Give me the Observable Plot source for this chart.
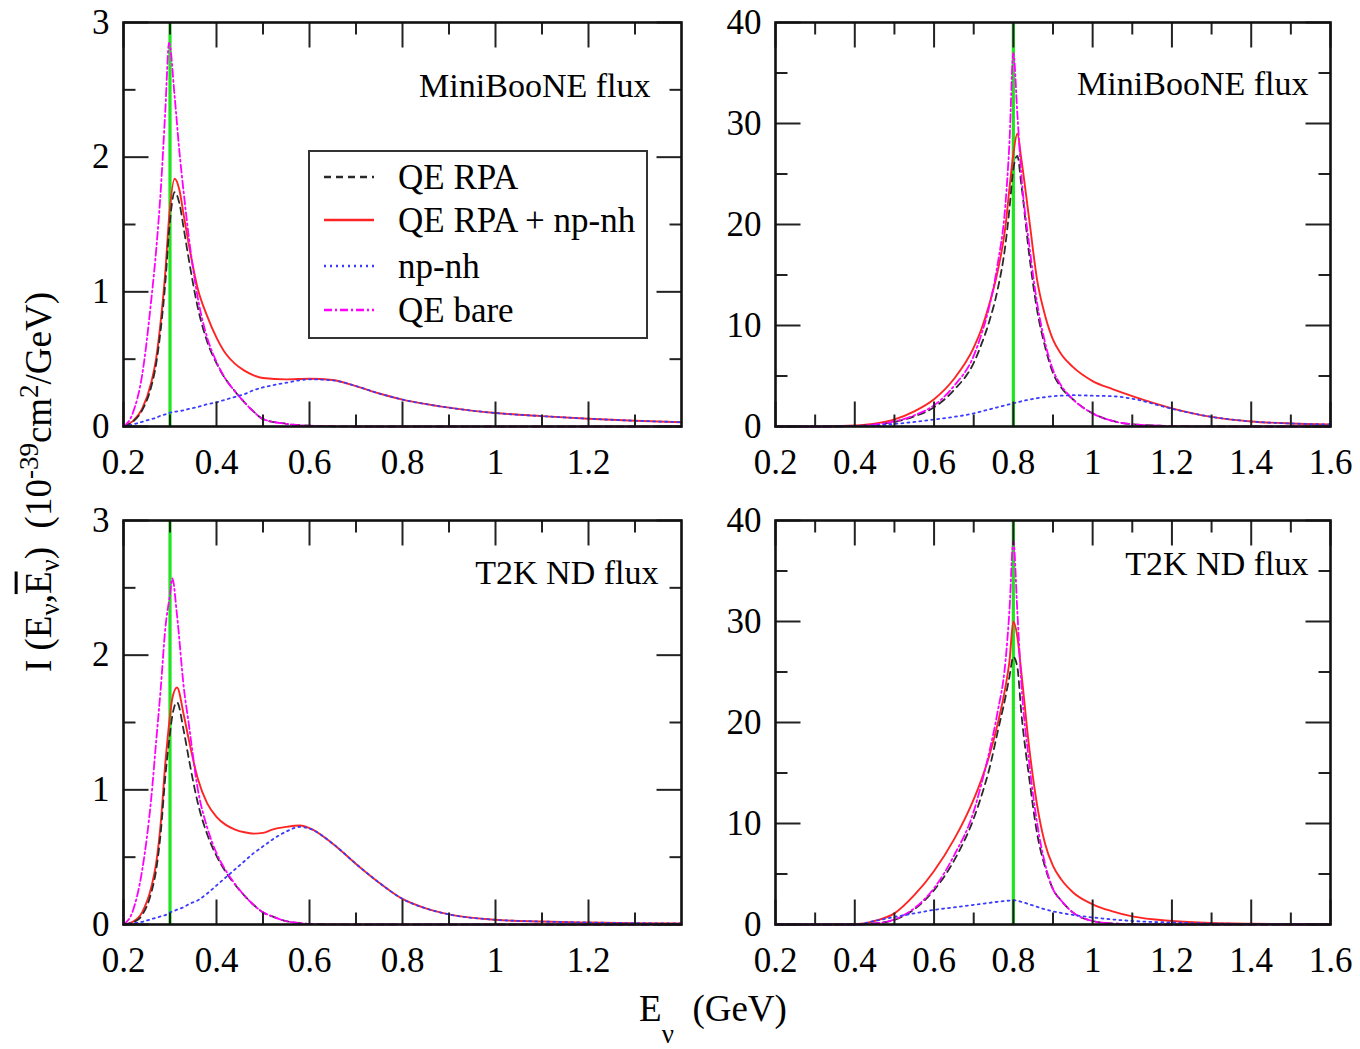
<!DOCTYPE html>
<html><head><meta charset="utf-8">
<script src="https://cdn.jsdelivr.net/npm/d3@7"></script>
<script src="https://cdn.jsdelivr.net/npm/@observablehq/plot@0.6"></script>
<style>
body{margin:0;background:#fff;}
#wrap{position:relative;width:1360px;height:1049px;font-family:"Liberation Serif","Times New Roman",serif;color:#000;overflow:hidden;}
.panel{position:absolute;}
.legend{position:absolute;left:308px;top:150px;width:336px;height:185px;border:2px solid #333;background:#fff;font-size:35px;}
.legend .row{position:absolute;left:0;height:40px;display:flex;align-items:center;}
.legend svg{margin-left:14px;}
.legend span{position:absolute;left:88px;white-space:nowrap;line-height:1;}
.ylab{position:absolute;left:40px;top:482px;transform:translate(-50%,-50%) rotate(-90deg);font-size:37px;white-space:nowrap;}
.ylab sub,.ylab sup{font-size:27px;}
.xlab{position:absolute;left:713px;top:1012px;transform:translate(-50%,-50%);font-size:37px;white-space:nowrap;}
.xlab sub{font-size:27px;position:relative;top:14px;}
</style>
</head><body>
<div id="wrap"></div>
<script>
// ---------- data ----------
const panelTitles = ["MiniBooNE flux", "MiniBooNE flux", "T2K ND flux", "T2K ND flux"];
const eBarValues = [0.3, 0.8, 0.3, 0.8];
const seriesNames = ["QE RPA", "QE RPA + np-nh", "np-nh", "QE bare"];

// left-column x ticks / y ticks
const xMajorLow = [0.2, 0.4, 0.6, 0.8, 1, 1.2];
const xMinorLow = [0.3, 0.5, 0.7, 0.9, 1.1, 1.3];
const yMajorLow = [0, 1, 2, 3];
const yMinorLow = [0.5, 1.5, 2.5];
// right-column
const xMajorHigh = [0.2, 0.4, 0.6, 0.8, 1, 1.2, 1.4, 1.6];
const xMinorHigh = [0.3, 0.5, 0.7, 0.9, 1.1, 1.3, 1.5];
const yMajorHigh = [0, 10, 20, 30, 40];
const yMinorHigh = [5, 15, 25, 35];

// Panel 1: MiniBooNE flux, Ebar = 0.3 GeV
const mbLowE    = [0.20,0.22,0.24,0.26,0.27,0.28,0.29,0.298,0.31,0.32,0.33,0.34,0.36,0.38,0.40,0.42,0.44,0.46,0.48,0.50,0.55,0.60,0.65,0.70,0.75,0.80,0.90,1.00,1.10,1.20,1.30,1.40];
const mbLowRPA  = [0,0.035,0.12,0.30,0.46,0.72,1.07,1.45,1.74,1.66,1.46,1.25,0.88,0.63,0.47,0.35,0.26,0.18,0.11,0.055,0.02,0.006,0.002,0,0,0,0,0,0,0,0,0];
const mbLowSum  = [0,0.04,0.13,0.33,0.50,0.78,1.15,1.55,1.84,1.76,1.56,1.36,1.02,0.82,0.66,0.54,0.465,0.415,0.38,0.36,0.35,0.355,0.345,0.30,0.245,0.20,0.14,0.10,0.077,0.058,0.043,0.032];
const mbLowNp   = [0,0.015,0.035,0.055,0.065,0.08,0.09,0.10,0.11,0.115,0.12,0.13,0.145,0.165,0.18,0.20,0.22,0.24,0.27,0.29,0.325,0.35,0.343,0.30,0.245,0.20,0.14,0.10,0.077,0.058,0.043,0.032];
const mbLowBare = [0,0.10,0.38,0.95,1.30,1.75,2.35,2.85,2.45,2.05,1.72,1.42,0.95,0.66,0.48,0.35,0.26,0.18,0.11,0.055,0.02,0.006,0.002,0,0,0,0,0,0,0,0,0];

// Panel 2: MiniBooNE flux, Ebar = 0.8 GeV
const mbHighE    = [0.20,0.30,0.40,0.45,0.50,0.55,0.60,0.65,0.70,0.72,0.74,0.76,0.78,0.79,0.80,0.81,0.82,0.84,0.86,0.88,0.90,0.92,0.95,1.00,1.05,1.10,1.20,1.30,1.40,1.50,1.60];
const mbHighRPA  = [0,0,0.05,0.18,0.45,1.0,1.9,3.6,6.3,8.2,10.5,13.5,18,21.5,25.5,26.8,24,17,11.5,7.9,5.3,3.9,2.7,1.3,0.55,0.22,0.05,0.01,0,0,0];
const mbHighSum  = [0,0,0.1,0.28,0.7,1.5,2.7,4.7,7.8,9.7,12.2,15.3,19.8,23.5,27,29,26.5,20.5,14.5,11.0,8.6,7.2,5.9,4.5,3.7,3.0,1.8,0.95,0.5,0.3,0.2];
const mbHighNp   = [0,0,0.05,0.1,0.25,0.45,0.7,0.95,1.3,1.5,1.7,1.9,2.1,2.2,2.3,2.4,2.5,2.65,2.8,2.9,3.0,3.05,3.1,3.05,3.0,2.75,1.75,0.95,0.5,0.3,0.2];
const mbHighBare = [0,0,0.05,0.2,0.5,1.1,2.1,4.0,7.0,9.2,12,16,22,28,37,31,25,18,12.2,8.3,5.6,4.1,2.7,1.3,0.55,0.22,0.05,0.01,0,0,0];

// Panel 3: T2K ND flux, Ebar = 0.3 GeV
const t2LowE    = [0.20,0.22,0.24,0.26,0.27,0.28,0.29,0.30,0.305,0.315,0.33,0.34,0.36,0.38,0.40,0.42,0.44,0.46,0.48,0.50,0.52,0.55,0.58,0.60,0.65,0.70,0.75,0.80,0.85,0.90,1.00,1.10,1.20,1.30,1.40];
const t2LowRPA  = [0,0.015,0.07,0.24,0.40,0.68,1.1,1.42,1.55,1.65,1.43,1.24,0.9,0.67,0.51,0.39,0.295,0.215,0.145,0.09,0.06,0.025,0.01,0.004,0.001,0,0,0,0,0,0,0,0,0,0];
const t2LowSum  = [0,0.02,0.09,0.28,0.45,0.75,1.2,1.55,1.68,1.76,1.55,1.38,1.08,0.9,0.8,0.74,0.705,0.685,0.675,0.68,0.705,0.725,0.735,0.715,0.6,0.45,0.31,0.19,0.12,0.075,0.035,0.022,0.015,0.01,0.008];
const t2LowNp   = [0,0.01,0.02,0.04,0.05,0.06,0.07,0.09,0.095,0.11,0.13,0.15,0.18,0.23,0.29,0.35,0.41,0.47,0.53,0.58,0.63,0.69,0.725,0.712,0.6,0.45,0.31,0.19,0.12,0.075,0.035,0.022,0.015,0.01,0.008];
const t2LowBare = [0,0.10,0.40,0.95,1.35,1.75,2.2,2.45,2.57,2.3,1.75,1.5,1.0,0.72,0.53,0.4,0.3,0.215,0.145,0.09,0.06,0.025,0.01,0.004,0.001,0,0,0,0,0,0,0,0,0,0];

// Panel 4: T2K ND flux, Ebar = 0.8 GeV
const t2HighE    = [0.20,0.30,0.40,0.45,0.50,0.55,0.60,0.65,0.70,0.72,0.74,0.76,0.78,0.79,0.80,0.81,0.82,0.84,0.86,0.88,0.90,0.92,0.95,1.00,1.05,1.10,1.20,1.30,1.40,1.50,1.60];
const t2HighRPA  = [0,0,0,0.1,0.45,1.5,3.4,6.3,10.5,12.8,15.5,19,22.5,24.5,26.5,25.5,21,14.5,9,5.7,3.5,2.4,1.2,0.35,0.1,0.03,0,0,0,0,0];
const t2HighSum  = [0,0,0.02,0.35,1.1,2.9,5.3,8.4,12.4,14.4,16.8,19.8,23.5,26,30,28.5,25,17.5,11.8,8.0,5.8,4.5,3.2,2.0,1.3,0.8,0.35,0.15,0.07,0.03,0.02];
const t2HighNp   = [0,0,0,0.35,0.75,1.1,1.45,1.7,1.95,2.05,2.15,2.25,2.33,2.37,2.4,2.35,2.25,2.0,1.75,1.5,1.3,1.15,0.95,0.7,0.5,0.35,0.2,0.1,0.05,0.03,0.02];
const t2HighBare = [0,0,0,0.1,0.5,1.6,3.6,6.8,11.2,14,17.2,21,26,31,38,31,24,16,10,6,3.5,2.4,1.2,0.35,0.1,0.03,0,0,0,0,0];

// ---------- styles ----------
const seriesStyle = {
  "QE RPA":         {stroke: "#2a2a2a", strokeWidth: 1.8, strokeDasharray: "7,5"},
  "QE RPA + np-nh": {stroke: "#ff2424", strokeWidth: 1.9, strokeDasharray: null},
  "np-nh":          {stroke: "#3b3bff", strokeWidth: 1.8, strokeDasharray: "2,4"},
  "QE bare":        {stroke: "#ff00ff", strokeWidth: 1.8, strokeDasharray: "8,3,2,3"}
};
const drawOrder = ["QE RPA + np-nh", "QE RPA", "QE bare", "np-nh"];
const FONT = "'Liberation Serif','Times New Roman',serif";

const tickShape = {draw(ctx, l) { ctx.moveTo(0, 0); ctx.lineTo(0, -l); }};
function tickMarks(xMajor, xMinor, yMajor, yMinor) {
  const o = {anchor: "start", shape: tickShape, stroke: "#222", strokeWidth: 2, strokeLinecap: "butt"};
  const marks = [];
  for (const [vals, len] of [[xMajor, 25], [xMinor, 12]]) {
    marks.push(Plot.vector(vals, {...o, x: d => d, frameAnchor: "bottom", rotate: 0, length: len}));
    marks.push(Plot.vector(vals, {...o, x: d => d, frameAnchor: "top", rotate: 180, length: len}));
  }
  for (const [vals, len] of [[yMajor, 25], [yMinor, 12]]) {
    marks.push(Plot.vector(vals, {...o, y: d => d, frameAnchor: "left", rotate: 90, length: len}));
    marks.push(Plot.vector(vals, {...o, y: d => d, frameAnchor: "right", rotate: -90, length: len}));
  }
  return marks;
}

function makePanel(cfg) {
  const rows = [];
  cfg.series.forEach(([name, ys]) => {
    cfg.xs.forEach((e, i) => rows.push({series: name, e, v: ys[i]}));
  });
  const lines = drawOrder.map(name => {
    const s = seriesStyle[name];
    return Plot.line(rows.filter(r => r.series === name), {
      x: "e", y: "v", stroke: s.stroke, strokeWidth: s.strokeWidth,
      strokeDasharray: s.strokeDasharray, curve: "monotone-x"
    });
  });
  return Plot.plot({
    width: cfg.width, height: 480,
    marginLeft: cfg.ml, marginRight: cfg.mr, marginTop: 22, marginBottom: 54,
    style: {fontFamily: FONT, fontSize: "35px", background: "transparent", overflow: "visible", color: "#000"},
    x: {domain: cfg.xDomain},
    y: {domain: cfg.yDomain},
    marks: [
      Plot.ruleX([cfg.eBar], {x: d => d, stroke: "#1fe51f", strokeWidth: 3.2}),
      ...lines,
      ...tickMarks(cfg.xMajor, cfg.xMinor, cfg.yMajor, cfg.yMinor),
      Plot.frame({stroke: "#111", strokeWidth: 2.6}),
      Plot.axisX({ticks: cfg.xMajor, anchor: "bottom", tickSize: 0, tickPadding: 23, fontSize: 35, tickFormat: d => String(d), label: null}),
      Plot.axisY({ticks: cfg.yMajor, anchor: "left", tickSize: 0, tickPadding: 14, fontSize: 35, tickFormat: d => String(d), label: null}),
      Plot.text([cfg.title], {text: d => d, frameAnchor: "top-right", textAnchor: "end", lineAnchor: "middle", dx: cfg.tdx, dy: cfg.tdy, fontSize: 34, fill: "#000"})
    ]
  });
}

const wrap = document.getElementById("wrap");
const configs = [
  {left: 0, top: 0, width: 700, ml: 123, mr: 19, xDomain: [0.2, 1.4], yDomain: [0, 3],
   xMajor: xMajorLow, xMinor: xMinorLow, yMajor: yMajorLow, yMinor: yMinorLow,
   title: panelTitles[0], eBar: eBarValues[0], tdx: -31, tdy: 64, xs: mbLowE,
   series: [["QE RPA", mbLowRPA], ["QE RPA + np-nh", mbLowSum], ["np-nh", mbLowNp], ["QE bare", mbLowBare]]},
  {left: 700, top: 0, width: 660, ml: 75, mr: 30, xDomain: [0.2, 1.6], yDomain: [0, 40],
   xMajor: xMajorHigh, xMinor: xMinorHigh, yMajor: yMajorHigh, yMinor: yMinorHigh,
   title: panelTitles[1], eBar: eBarValues[1], tdx: -22, tdy: 62, xs: mbHighE,
   series: [["QE RPA", mbHighRPA], ["QE RPA + np-nh", mbHighSum], ["np-nh", mbHighNp], ["QE bare", mbHighBare]]},
  {left: 0, top: 498, width: 700, ml: 123, mr: 19, xDomain: [0.2, 1.4], yDomain: [0, 3],
   xMajor: xMajorLow, xMinor: xMinorLow, yMajor: yMajorLow, yMinor: yMinorLow,
   title: panelTitles[2], eBar: eBarValues[2], tdx: -23, tdy: 53, xs: t2LowE,
   series: [["QE RPA", t2LowRPA], ["QE RPA + np-nh", t2LowSum], ["np-nh", t2LowNp], ["QE bare", t2LowBare]]},
  {left: 700, top: 498, width: 660, ml: 75, mr: 30, xDomain: [0.2, 1.6], yDomain: [0, 40],
   xMajor: xMajorHigh, xMinor: xMinorHigh, yMajor: yMajorHigh, yMinor: yMinorHigh,
   title: panelTitles[3], eBar: eBarValues[3], tdx: -22, tdy: 44, xs: t2HighE,
   series: [["QE RPA", t2HighRPA], ["QE RPA + np-nh", t2HighSum], ["np-nh", t2HighNp], ["QE bare", t2HighBare]]}
];
for (const cfg of configs) {
  const div = document.createElement("div");
  div.className = "panel";
  div.style.left = cfg.left + "px";
  div.style.top = cfg.top + "px";
  div.appendChild(makePanel(cfg));
  wrap.appendChild(div);
}

// legend inside panel 1
const legend = document.createElement("div");
legend.className = "legend";
const rowCenters = [25, 68, 114, 158];
seriesNames.forEach((name, i) => {
  const s = seriesStyle[name];
  const row = document.createElement("div");
  row.className = "row";
  row.style.top = (rowCenters[i] - 20) + "px";
  row.innerHTML = `<svg width="50" height="10"><line x1="0" x2="50" y1="5" y2="5" stroke="${s.stroke}" stroke-width="2.4" ${s.strokeDasharray ? `stroke-dasharray="${s.strokeDasharray}"` : ""}/></svg><span>${name}</span>`;
  legend.appendChild(row);
});
wrap.appendChild(legend);

// axis titles
const ylab = document.createElement("div");
ylab.className = "ylab";
ylab.innerHTML = 'I (E<sub>ν</sub>,<span style="text-decoration:overline">E</span><sub>ν</sub>)&nbsp;&nbsp;(10<sup>-39</sup>cm<sup>2</sup>/GeV)';
wrap.appendChild(ylab);
const xlab = document.createElement("div");
xlab.className = "xlab";
xlab.innerHTML = 'E<sub>ν</sub>&nbsp;&nbsp;(GeV)';
wrap.appendChild(xlab);
</script>
</body></html>
